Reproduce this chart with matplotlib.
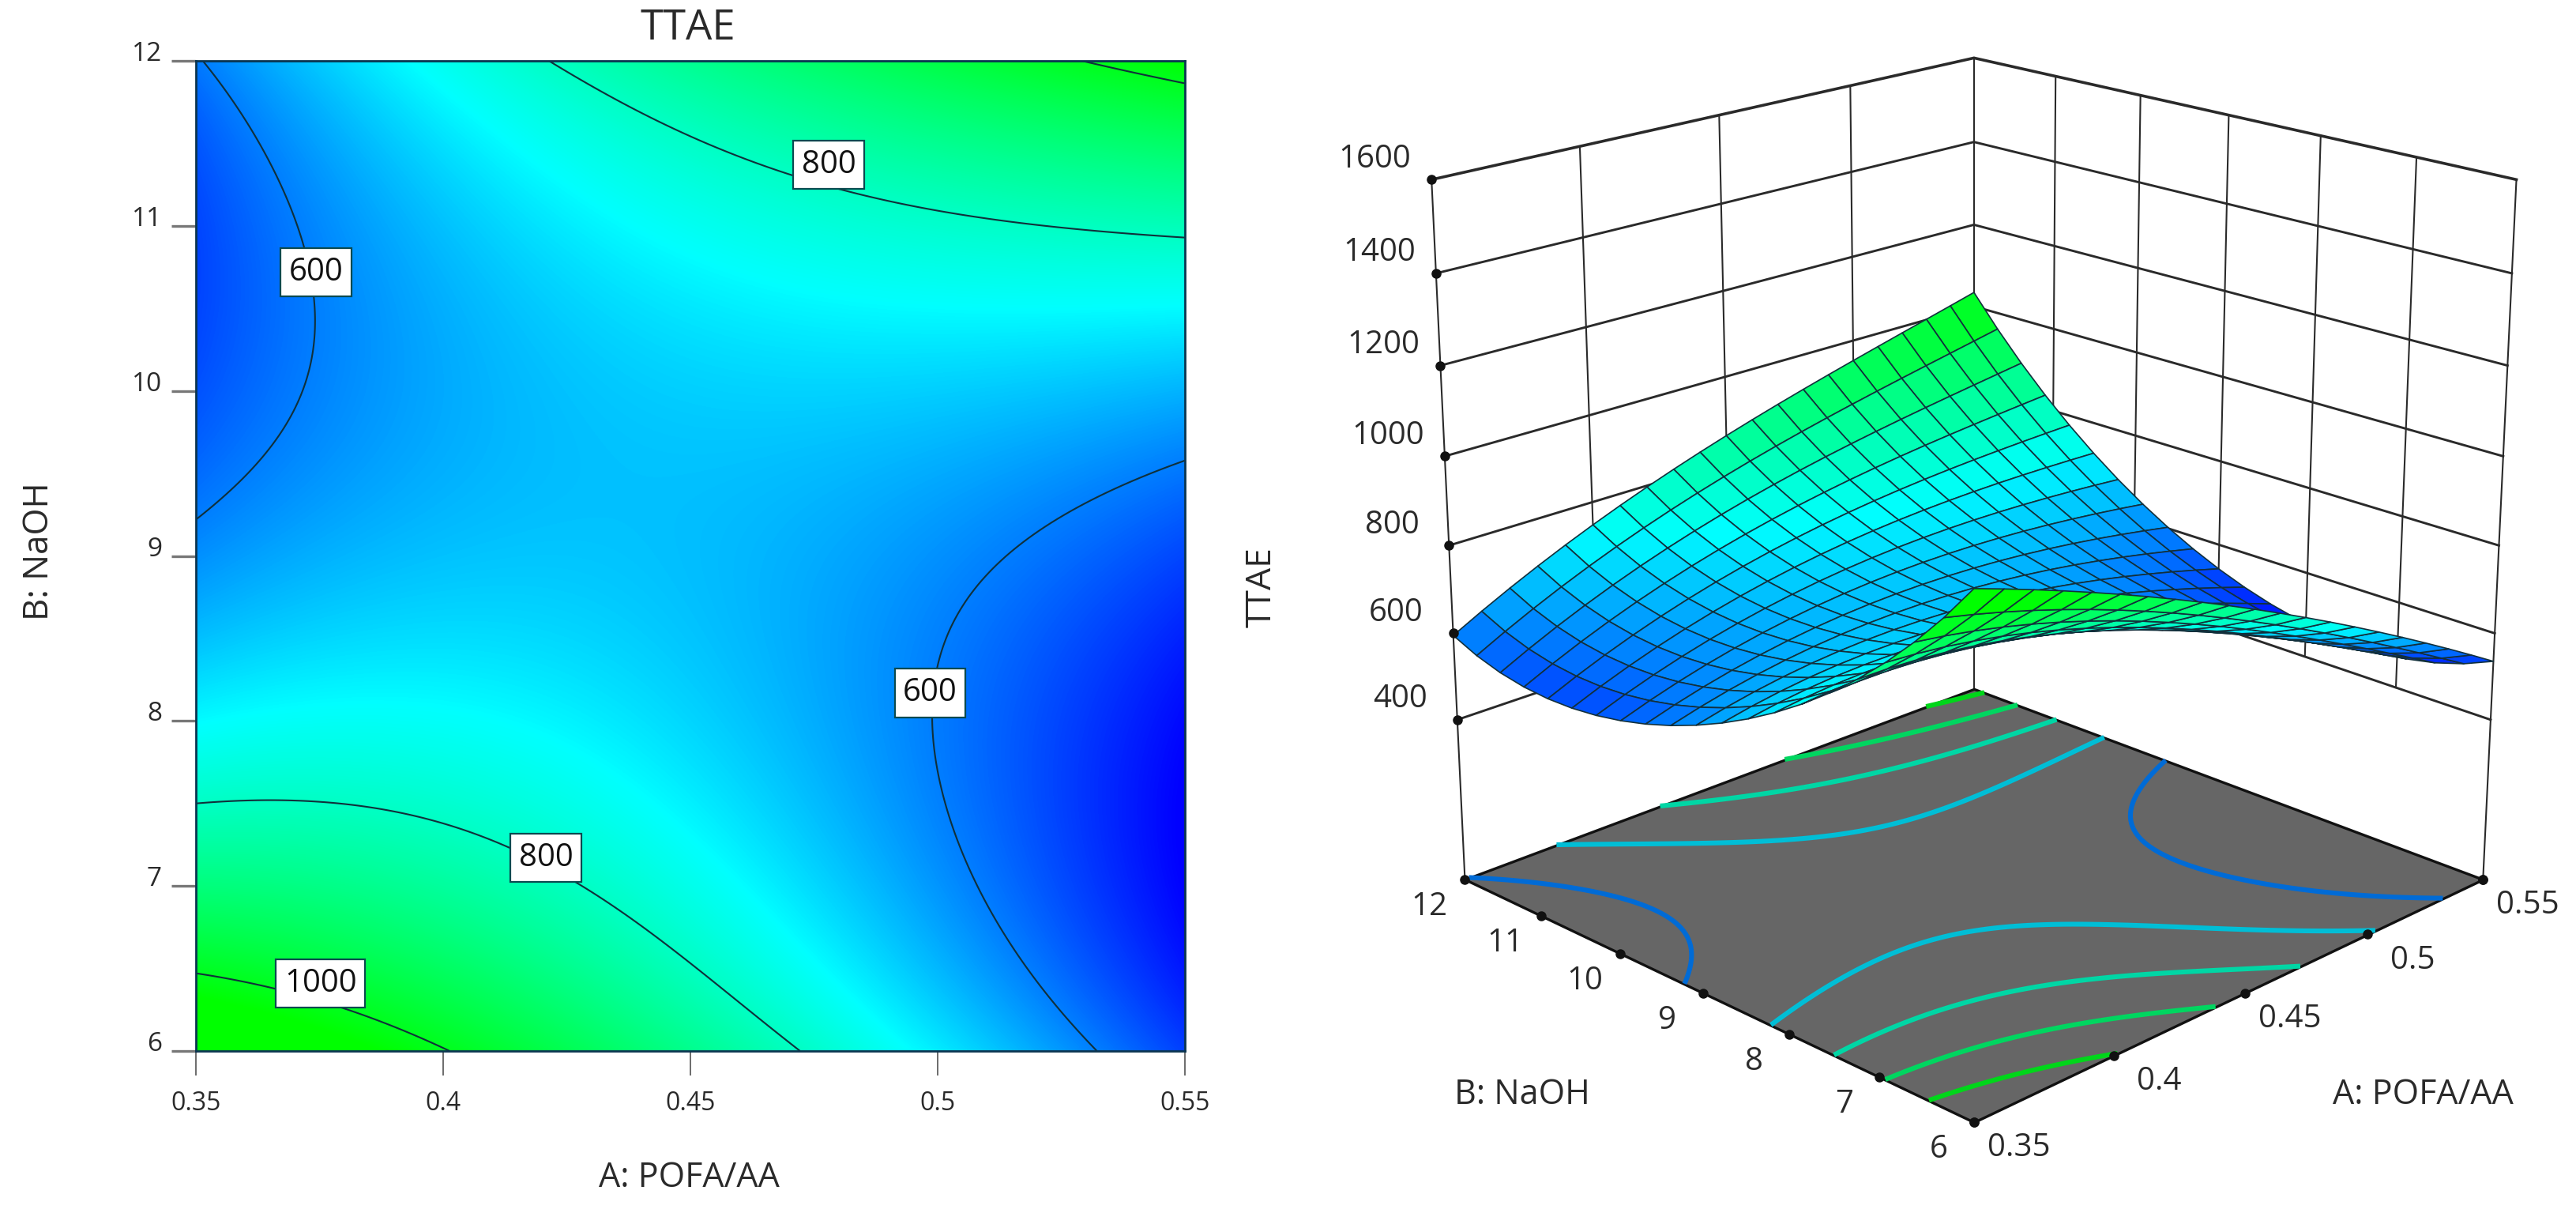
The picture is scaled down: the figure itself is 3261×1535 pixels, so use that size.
#!/usr/bin/env python3
# contour plot and 3D response surface of TTAE against POFA/AA and NaOH
import numpy as np
import matplotlib
matplotlib.use("Agg")
import matplotlib.pyplot as plt
from matplotlib.colors import LinearSegmentedColormap, Normalize
from mpl_toolkits.mplot3d import proj3d
from mpl_toolkits.mplot3d.art3d import Poly3DCollection

plt.rcParams['font.family'] = ['Open Sans', 'DejaVu Sans']

# values, one row per NaOH level
pofa = [0.35, 0.375, 0.40, 0.425, 0.45, 0.475, 0.50, 0.525, 0.55]
naoh = [6, 6.5, 7, 7.5, 8, 8.5, 9, 9.5, 10, 10.5, 11, 11.5, 12]
ttae_b6 = [1130, 1060, 1000, 930, 875, 810, 700, 595, 540]
ttae_b65 = [990, 955, 915, 865, 805, 745, 660, 575, 510]
ttae_b7 = [890, 865, 840, 815, 760, 705, 615, 550, 490]
ttae_b75 = [805, 790, 775, 765, 725, 675, 595, 530, 475]
ttae_b8 = [745, 730, 725, 725, 700, 655, 580, 525, 470]
ttae_b85 = [685, 680, 690, 695, 685, 645, 575, 530, 495]
ttae_b9 = [630, 635, 660, 680, 680, 655, 597, 570, 565]
ttae_b95 = [585, 605, 640, 672, 682, 675, 640, 620, 620]
ttae_b10 = [555, 585, 635, 675, 695, 700, 680, 665, 665]
ttae_b105 = [545, 590, 640, 690, 715, 735, 725, 720, 730]
ttae_b11 = [553, 605, 670, 715, 745, 770, 775, 797, 808]
ttae_b115 = [570, 635, 700, 762, 785, 820, 850, 875, 910]
ttae_b12 = [595, 665, 738, 818, 870, 915, 955, 995, 1045]
ttae = [ttae_b6, ttae_b65, ttae_b7, ttae_b75, ttae_b8, ttae_b85, ttae_b9,
        ttae_b95, ttae_b10, ttae_b105, ttae_b11, ttae_b115, ttae_b12]

a_ticks = [0.35, 0.4, 0.45, 0.5, 0.55]
b_ticks = [6, 7, 8, 9, 10, 11, 12]
z_ticks = [400, 600, 800, 1000, 1200, 1400, 1600]
a_labels = ['0.35', '0.4', '0.45', '0.5', '0.55']
line_levels = [600, 800, 1000]
floor_levels = [600, 700, 800, 900, 1000]
floor_z = 22

W, H = 3262, 1535
fig = plt.figure(figsize=(W / 100, H / 100), dpi=100)
cmap = LinearSegmentedColormap.from_list(
    'de', [(0, '#0000ff'), (0.456, '#00ffff'), (1, '#00ff00')])
norm = Normalize(470, 1040)
ink = '#2a2a2a'


def smooth_grid(n, deg_a=3, deg_b=4):
    # least squares polynomial through the read table, only to take out reading noise when drawing
    u = (np.array(pofa) - 0.45) / 0.1
    v = (np.array(naoh) - 9) / 3.0
    Vu = np.polynomial.polynomial.polyvander(u, deg_a)
    Vv = np.polynomial.polynomial.polyvander(v, deg_b)
    coef = np.linalg.pinv(Vv) @ np.array(ttae, dtype=float) @ np.linalg.pinv(Vu).T
    uf = np.linspace(-1, 1, n)
    Uf = np.polynomial.polynomial.polyvander(uf, deg_a)
    Wf = np.polynomial.polynomial.polyvander(uf, deg_b)
    return np.linspace(pofa[0], pofa[-1], n), np.linspace(naoh[0], naoh[-1], n), Wf @ coef @ Uf.T


# ----------------
# left: contour plot
# ----------------
ax = fig.add_axes([248 / W, 1 - 1330 / H, 1252 / W, 1253 / H])
xf, yf, zf = smooth_grid(241)
ax.imshow(zf, origin='lower', extent=[0.35, 0.55, 6, 12], aspect='auto',
          cmap=cmap, norm=norm, interpolation='bilinear')
ax.contour(xf, yf, zf, levels=line_levels, colors='#10303a', linewidths=1.5)
ax.set_xticks(a_ticks, a_labels)
ax.set_yticks(b_ticks)
ax.tick_params(axis='x', length=22, width=1.1, color='#444444', pad=14, labelsize=23, labelcolor=ink)
ax.tick_params(axis='y', length=22, width=2.4, color='#777777', pad=9, labelsize=24, labelcolor=ink)
plt.setp(ax.get_yticklabels(), va='baseline')
for s in ax.spines.values():
    s.set_linewidth(2)
    s.set_color('#0b3550')

contour_labels = [('600', 0.3743, 10.72), ('800', 0.478, 11.37), ('600', 0.4985, 8.17),
                  ('800', 0.4208, 7.17), ('1000', 0.3752, 6.41)]
for txt, xa, yb in contour_labels:
    ax.text(xa, yb, txt, ha='center', va='center', fontsize=29, color='#111111',
            bbox=dict(boxstyle='square,pad=0.26', fc='white', ec='#0b4a50', lw=1.6))

fig.text(871 / W, 1 - 36 / H, 'TTAE', ha='center', va='center', fontsize=38, color=ink)
fig.text(872 / W, 1 - 1491 / H, 'A: POFA/AA', ha='center', va='center', fontsize=31, color=ink)
fig.text(50 / W, 1 - 698 / H, 'B: NaOH', rotation=90, ha='center', va='center', fontsize=31.5, color=ink)

# ----------------
# right: response surface
# ----------------
ax3 = fig.add_axes([1687 / W, 39 / H, 1581 / W, 1581 / H], projection='3d')
ax3.set_proj_type('persp', focal_length=0.587)
ax3.view_init(elev=19.8, azim=-135)
ax3.set_box_aspect((1, 1, 1.0))
ax3.set_xlim(0.35, 0.55, view_margin=0)
ax3.set_ylim(6, 12, view_margin=0)
ax3.set_zlim(floor_z, 1600, view_margin=0)
ax3.set_axis_off()
ax3.patch.set_alpha(0)
ax3.computed_zorder = False

wall = dict(color='#2a2a2a', lw=1.5, zorder=1)
for z in z_ticks:
    lw = 2.6 if z == 1600 else 2.1
    ax3.plot([0.35, 0.55, 0.55], [12, 12, 6], [z, z, z], color='#2a2a2a', lw=lw, zorder=1)
for a in a_ticks:
    ax3.plot([a, a], [12, 12], [z_ticks[0], z_ticks[-1]], **wall)
for b in b_ticks:
    ax3.plot([0.55, 0.55], [b, b], [z_ticks[0], z_ticks[-1]], **wall)
# corner edges reach down to the floor
ax3.plot([0.35, 0.35], [12, 12], [floor_z, 400], **wall)
ax3.plot([0.55, 0.55], [12, 12], [floor_z, 400], **wall)
ax3.plot([0.55, 0.55], [6, 6], [floor_z, 400], **wall)

floor = Poly3DCollection([[(0.35, 6, floor_z), (0.55, 6, floor_z), (0.55, 12, floor_z), (0.35, 12, floor_z)]],
                         facecolor='#666666', edgecolor='#111111', linewidths=2.4, zorder=2)
ax3.add_collection3d(floor)

xc, yc, zc = smooth_grid(121)
Xc, Yc = np.meshgrid(xc, yc)
floor_cols = [tuple(0.84 * c for c in cmap(norm(v))[:3]) for v in floor_levels]
ax3.contour(Xc, Yc, zc, levels=floor_levels, zdir='z', offset=floor_z + 1,
            colors=floor_cols, linewidths=4.4, zorder=3)

xs, ys, zs = smooth_grid(21)
Xs, Ys = np.meshgrid(xs, ys)
cells = 0.25 * (zs[:-1, :-1] + zs[1:, :-1] + zs[:-1, 1:] + zs[1:, 1:])
ax3.plot_surface(Xs, Ys, zs, rstride=1, cstride=1, facecolors=cmap(norm(cells)), shade=False,
                 edgecolor='#12303c', linewidth=1.2, antialiased=True, zorder=4)

M = ax3.get_proj()


def label3d(x, y, z, txt, dx, dy):
    x2, y2, _ = proj3d.proj_transform(x, y, z, M)
    ax3.annotate(txt, (x2, y2), xytext=(dx, dy), textcoords='offset pixels', ha='center', va='center',
                 fontsize=29, color=ink, annotation_clip=False, zorder=6)


for z in z_ticks:
    ax3.plot([0.35], [12], [z], 'o', color='#111111', ms=8, zorder=5)
    label3d(0.35, 12, z, str(z), -72, 26)
for b in b_ticks:
    ax3.plot([0.35], [b], [floor_z], 'o', color='#111111', ms=8, zorder=5)
    label3d(0.35, b, floor_z, str(b), -45, -35)
for a, t in zip(a_ticks, a_labels):
    ax3.plot([a], [6], [floor_z], 'o', color='#111111', ms=8, zorder=5)
    label3d(a, 6, floor_z, t, 57, -33)
ax3.plot([0.55], [6], [floor_z], 'o', color='#111111', ms=8, zorder=5)

fig.text(1927 / W, 1 - 1386 / H, 'B: NaOH', ha='center', va='center', fontsize=31, color=ink)
fig.text(3067 / W, 1 - 1386 / H, 'A: POFA/AA', ha='center', va='center', fontsize=31, color=ink)
fig.text(1597 / W, 1 - 743 / H, 'TTAE', rotation=90, ha='center', va='center', fontsize=32, color=ink)

fig.savefig('out.png', dpi=100)
